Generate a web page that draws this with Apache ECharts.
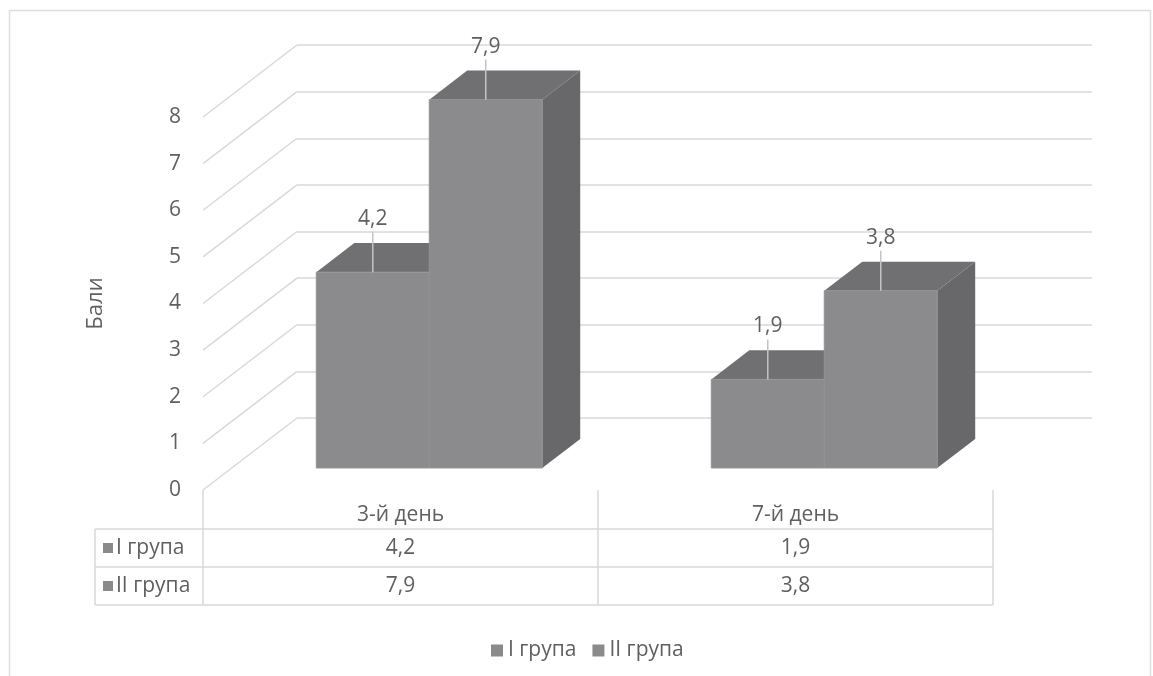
<!DOCTYPE html>
<html>
<head>
<meta charset="utf-8">
<script src="https://cdn.jsdelivr.net/npm/echarts@6/dist/echarts.min.js"></script>
<style>
  html, body { margin: 0; padding: 0; background: #ffffff; }
  #chart { width: 1153px; height: 676px; }
</style>
</head>
<body>
<div id="chart"></div>
<script>
// ---- data ----
const categories = ['3-й день', '7-й день'];
const seriesNames = ['I група', 'II група'];
const groupI = [4.2, 1.9];
const groupII = [7.9, 3.8];
const yTicks = [0, 1, 2, 3, 4, 5, 6, 7, 8];

// ---- look ----
const FONT = '"Open Sans", "Noto Sans", sans-serif';
const FS = 21;
const TEXT = '#5f5f5f';
const GRIDLINE = '#d9d9d9';
const FRONT = '#8b8b8d';
const TOP = '#707072';
const SIDE = '#68686a';
const LEGEND_COLOR = '#8a8a8a';

// perspective: offset from the front plane to the back wall
const DEPTH = [94, -72];
const BAR_NEAR = 0.306;   // depth fraction of the bar front faces
const BAR_FAR = 0.71;     // depth fraction of the bar back faces
const BAR_WIDTH = 0.286;  // bar width as a share of the category band

// plot frames
const FRONT_GRID = { left: 203, right: 160, top: 117, bottom: 186 };
const BACK_GRID = { left: 297, right: 61, top: 45, bottom: 258 };
const TABLE_GRID = { left: 203, right: 160, top: 529, bottom: 71 };
const TABLE_LABEL_LEFT = 95;

const fmt = v => v.toFixed(1).replace('.', ',');

// a 3-D box for one value; slot -1 = left bar of the pair, 0 = right bar
function boxRenderer(slot) {
  return function (params, api) {
    const cat = api.value(0);
    const val = api.value(1);
    const base = api.coord([cat, 0]);
    const top = api.coord([cat, val]);
    const band = api.size([1, 0])[0];
    const w = band * BAR_WIDTH;
    const nx = DEPTH[0] * BAR_NEAR, ny = DEPTH[1] * BAR_NEAR;
    const dx = DEPTH[0] * (BAR_FAR - BAR_NEAR), dy = DEPTH[1] * (BAR_FAR - BAR_NEAR);
    const x0 = base[0] + nx + slot * w;
    const x1 = x0 + w;
    const yb = base[1] + ny;
    const yt = top[1] + ny;
    const cx = (x0 + x1) / 2;
    return {
      type: 'group',
      children: [
        { type: 'polygon', shape: { points: [[x1, yt], [x1 + dx, yt + dy], [x1 + dx, yb + dy], [x1, yb]] },
          style: { fill: SIDE } },
        { type: 'polygon', shape: { points: [[x0, yt], [x0 + dx, yt + dy], [x1 + dx, yt + dy], [x1, yt]] },
          style: { fill: TOP } },
        { type: 'rect', shape: { x: x0, y: yt, width: w, height: yb - yt },
          style: { fill: FRONT, stroke: '#939395', lineWidth: 1 } },
        { type: 'line', shape: { x1: cx, y1: yt - 40, x2: cx, y2: yt },
          style: { stroke: '#c4c4c4', lineWidth: 1.5 } },
        { type: 'text', x: cx, y: yt - 53,
          style: { text: fmt(val), fill: TEXT, font: FS + 'px ' + FONT, align: 'center', verticalAlign: 'middle' } }
      ]
    };
  };
}

// slanted gridline on the side wall for one tick value
function sideWallLine(params, api) {
  const y = api.coord([0, api.value(1)])[1];
  const x = params.coordSys.x;
  return {
    type: 'line',
    shape: { x1: x, y1: y, x2: x + DEPTH[0], y2: y + DEPTH[1] },
    style: { stroke: GRIDLINE, lineWidth: 1.5 }
  };
}

// one value cell of the data table
function tableCell(params, api) {
  const p = api.coord([api.value(0), api.value(1)]);
  return {
    type: 'text', x: p[0], y: p[1],
    style: { text: fmt(api.value(2)), fill: TEXT, font: FS + 'px ' + FONT, align: 'center', verticalAlign: 'middle' }
  };
}

const tableData = [];
[groupI, groupII].forEach((vals, r) => vals.forEach((v, c) => tableData.push([c, r, v])));

// table rules, derived from the table frame
const W = 1153, H = 676;
const tX0 = TABLE_GRID.left, tX1 = W - TABLE_GRID.right;
const tY0 = TABLE_GRID.top, tY1 = H - TABLE_GRID.bottom;
const headTop = H - FRONT_GRID.bottom;
const rowH = (tY1 - tY0) / seriesNames.length;
const colW = (tX1 - tX0) / categories.length;
const rules = [];
for (let r = 0; r <= seriesNames.length; r++) {
  const y = tY0 + r * rowH;
  rules.push([[TABLE_LABEL_LEFT, y], [tX1, y]]);
}
rules.push([[TABLE_LABEL_LEFT, tY0], [TABLE_LABEL_LEFT, tY1]]);
for (let c = 0; c <= categories.length; c++) {
  const x = tX0 + c * colW;
  rules.push([[x, headTop], [x, tY1]]);
}

const chart = echarts.init(document.getElementById('chart'), null, { renderer: 'canvas' });

chart.setOption({
  animation: false,
  backgroundColor: '#ffffff',
  textStyle: { fontFamily: FONT },
  grid: [
    Object.assign({ containLabel: false }, FRONT_GRID),
    Object.assign({ containLabel: false }, BACK_GRID),
    Object.assign({ containLabel: false }, TABLE_GRID)
  ],
  xAxis: [
    { gridIndex: 0, type: 'category', data: categories,
      axisLine: { show: false }, axisTick: { show: false }, splitLine: { show: false },
      axisLabel: { margin: 15, color: TEXT, fontSize: FS, fontFamily: FONT } },
    { gridIndex: 1, type: 'value', show: false },
    { gridIndex: 2, type: 'category', data: categories, show: false }
  ],
  yAxis: [
    { gridIndex: 0, type: 'value', min: 0, max: 8, interval: 1,
      name: 'Бали', nameLocation: 'middle', nameGap: 96, nameRotate: 90,
      nameTextStyle: { color: TEXT, fontSize: FS + 1, fontFamily: FONT },
      axisLine: { show: false }, axisTick: { show: false }, splitLine: { show: false },
      axisLabel: { margin: 22, color: TEXT, fontSize: FS, fontFamily: FONT, padding: [6, 0, 0, 0] } },
    { gridIndex: 1, type: 'value', min: 0, max: 8, interval: 1,
      axisLine: { show: false }, axisTick: { show: false }, axisLabel: { show: false },
      splitLine: { show: true, lineStyle: { color: GRIDLINE, width: 1.5 } } },
    { gridIndex: 2, type: 'category', data: seriesNames, inverse: true,
      axisLine: { show: false }, axisTick: { show: false }, splitLine: { show: false },
      axisLabel: {
        align: 'left', margin: TABLE_GRID.left - 103,
        formatter: v => '{sq|}{t|' + v + '}',
        rich: {
          sq: { width: 10, height: 10, backgroundColor: LEGEND_COLOR },
          t: { color: TEXT, fontSize: FS, fontFamily: FONT, padding: [0, 0, 0, 3] }
        }
      } }
  ],
  legend: {
    data: seriesNames,
    left: 486, top: 635,
    icon: 'rect', itemWidth: 12, itemHeight: 12, itemGap: 16,
    textStyle: { color: TEXT, fontSize: FS, fontFamily: FONT },
    selectedMode: false
  },
  series: [
    { type: 'custom', name: 'wall', silent: true, xAxisIndex: 0, yAxisIndex: 0, z: 1,
      data: yTicks.map(v => [0, v]), renderItem: sideWallLine },
    { type: 'custom', name: seriesNames[0], xAxisIndex: 0, yAxisIndex: 0, z: 3,
      itemStyle: { color: LEGEND_COLOR },
      data: groupI.map((v, i) => [i, v]), renderItem: boxRenderer(-1) },
    { type: 'custom', name: seriesNames[1], xAxisIndex: 0, yAxisIndex: 0, z: 4,
      itemStyle: { color: LEGEND_COLOR },
      data: groupII.map((v, i) => [i, v]), renderItem: boxRenderer(0) },
    { type: 'custom', name: 'table', silent: true, xAxisIndex: 2, yAxisIndex: 2, z: 2,
      data: tableData, renderItem: tableCell }
  ],
  graphic: [
    { type: 'rect', silent: true, z: 0,
      shape: { x: 9.5, y: 10.5, width: 1141, height: 700 },
      style: { fill: null, stroke: '#dedede', lineWidth: 1.5 } }
  ].concat(rules.map(pts => ({
    type: 'polyline', silent: true, z: 0,
    shape: { points: pts },
    style: { stroke: GRIDLINE, lineWidth: 1.5, fill: null }
  })))
});
</script>
</body>
</html>
